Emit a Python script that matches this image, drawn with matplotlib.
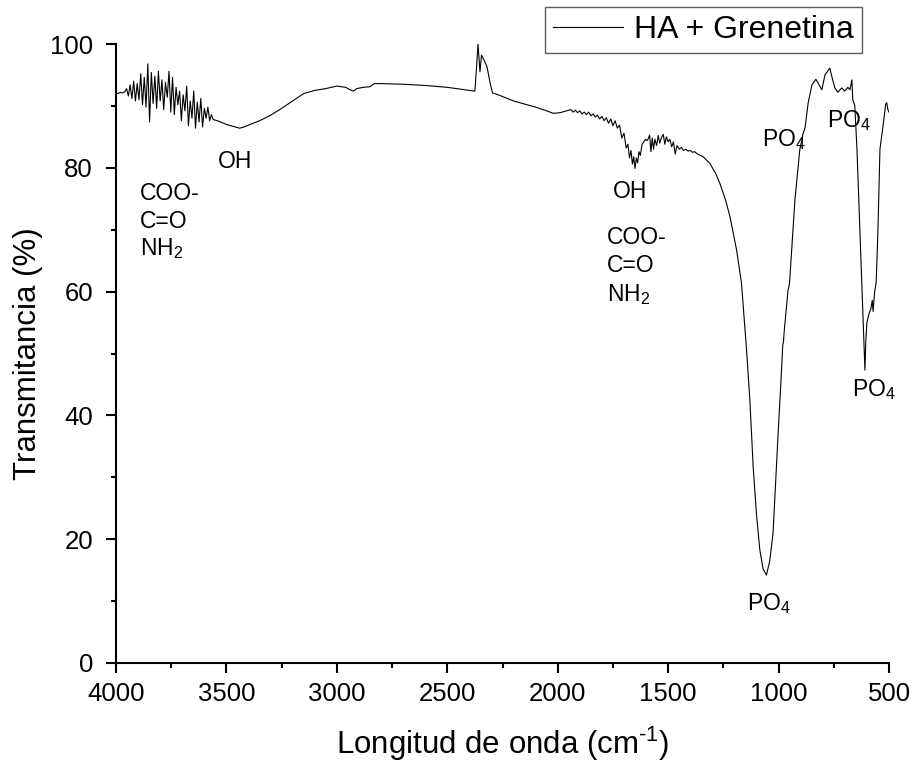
import matplotlib
matplotlib.use("Agg")
import matplotlib.pyplot as plt
import numpy as np

plt.rcParams['font.family'] = ['Liberation Sans', 'DejaVu Sans']
plt.rcParams['mathtext.fontset'] = 'custom'
plt.rcParams['mathtext.rm'] = 'Liberation Sans'
plt.rcParams['mathtext.it'] = 'Liberation Sans:italic'
plt.rcParams['mathtext.bf'] = 'Liberation Sans:bold'

# ---- data: wavenumber (cm-1) and transmittance (%) ----
wavenumber = [
    3998, 3990, 3980, 3970,
    3960, 3952, 3944, 3936, 3928, 3920, 3912, 3904, 3896, 3888, 3880, 3872, 3864,
    3856, 3848, 3840, 3832, 3824, 3816, 3808, 3800, 3792, 3784, 3776, 3768, 3760,
    3752, 3744, 3736, 3728, 3720, 3712, 3704, 3696, 3688, 3680, 3672, 3664, 3656,
    3648, 3640, 3632, 3624, 3616, 3608, 3600, 3592, 3584, 3576, 3568, 3560,
    3540, 3520, 3500, 3480, 3460, 3440, 3420, 3400, 3350, 3300, 3250, 3200, 3150,
    3100, 3050, 3000, 2960, 2940, 2925, 2910, 2880, 2850, 2830, 2800, 2700, 2600,
    2500, 2400, 2375, 2368, 2361, 2352, 2345, 2335, 2320, 2305, 2295, 2270, 2200,
    2100, 2050, 2020,
    1990, 1960, 1940, 1930, 1920, 1910, 1900, 1890, 1880, 1870, 1860, 1850, 1840,
    1830, 1820, 1810, 1800, 1790, 1780, 1770, 1760, 1750, 1740, 1730, 1720, 1710,
    1700, 1690, 1682, 1675, 1668, 1662, 1656, 1650, 1644, 1638, 1632, 1626, 1618,
    1610, 1602, 1596, 1590, 1584, 1578, 1572, 1566, 1560, 1552, 1545, 1538, 1530,
    1522, 1515, 1508, 1500, 1492, 1484, 1476, 1468, 1460, 1450, 1440, 1430, 1420,
    1410, 1400, 1390, 1380, 1370, 1360, 1342, 1311, 1285, 1266, 1240, 1220, 1190,
    1168, 1145, 1130, 1115, 1100, 1085, 1070, 1055, 1040, 1025, 1002, 990, 981,
    978, 974, 957, 953, 950, 926, 904, 890, 880, 866, 849, 831, 820, 804, 790,
    768, 755, 745, 732, 714, 700, 686, 677, 668, 664, 655, 645, 634, 623, 615,
    609, 605, 600, 590, 582, 576, 572, 565, 558, 550, 541, 528, 515, 510, 505, 500,
]
transmittance = [
    92.1, 92.0, 92.2, 92.1,
    92.3, 92.8, 91.6, 93.4, 91.2, 94.0, 90.8, 93.6, 91.0, 95.2, 90.2, 94.6, 89.8,
    96.8, 87.4, 95.4, 90.4, 94.8, 89.6, 95.6, 90.8, 94.2, 89.4, 93.8, 91.4, 95.6,
    89.0, 94.6, 88.6, 93.0, 90.2, 92.4, 87.6, 91.8, 89.2, 93.2, 86.8, 90.8, 88.0,
    92.4, 86.4, 90.6, 87.4, 91.2, 86.6, 89.6, 88.0, 89.8, 87.6, 88.6, 87.8,
    87.6, 87.3, 87.0, 86.8, 86.6, 86.4, 86.6, 86.9, 87.6, 88.5, 89.6, 90.8, 92.0,
    92.5, 92.8, 93.2, 93.0, 92.6, 92.4, 92.8, 93.0, 93.1, 93.6, 93.6, 93.5, 93.3,
    93.0, 92.5, 92.4, 96.0, 100.0, 95.5, 98.2, 97.5, 96.3, 93.5, 92.1, 91.8, 90.8,
    89.8, 89.2, 88.8,
    88.9, 89.2, 89.4, 89.0, 89.3, 88.9, 89.2, 88.7, 89.0, 88.6, 89.0, 88.4, 88.7,
    88.2, 88.5, 87.9, 88.3, 87.6, 88.1, 87.2, 87.9, 86.8, 87.6, 86.4, 86.9, 84.8,
    85.6, 83.2, 83.8, 81.6, 82.8, 80.6, 81.8, 79.9, 81.6, 80.8, 82.6, 82.0, 83.8,
    84.2, 84.6, 84.4, 84.7, 85.3, 82.6, 84.8, 83.0, 84.6, 83.6, 85.2, 84.0, 84.9,
    85.4, 83.8, 85.0, 84.2, 84.6, 83.4, 84.2, 82.2, 83.6, 83.0, 83.3, 82.8, 83.0,
    82.7, 82.8, 82.5, 82.6, 82.3, 82.1, 81.8, 80.7, 79.1, 77.5, 74.8, 72.1, 66.7,
    61.4, 50.6, 42.5, 31.7, 24.0, 18.3, 15.2, 14.2, 16.5, 21.0, 37.1, 45.0, 51.4,
    51.8, 53.8, 60.3, 60.8, 61.6, 74.8, 82.9, 85.4, 86.5, 90.5, 93.4, 94.3, 93.6, 92.6, 95.0,
    96.1, 94.2, 92.9, 92.2, 92.9, 92.4, 93.0, 92.6, 94.2, 91.0, 90.1, 83.0, 72.0, 61.4, 53.0,
    47.3, 52.0, 55.0, 56.5, 57.2, 58.6, 56.8, 60.0, 61.5, 70.0, 83.0, 86.5, 90.3, 90.5, 89.4, 89.0,
]

series_label = "HA + Grenetina"
x_ticks = [4000, 3500, 3000, 2500, 2000, 1500, 1000, 500]
y_ticks = [0, 20, 40, 60, 80, 100]

annotations = [
    (3891, 74.8, "COO-"), (3891, 70.3, "C=O"), (3891, 65.9, "NH$_2$"),
    (3538, 80.0, "OH"),
    (1750, 75.1, "OH"),
    (1777, 67.7, "COO-"), (1777, 63.2, "C=O"), (1777, 58.5, "NH$_2$"),
    (1144, 8.6, "PO$_4$"),
    (1076, 83.5, "PO$_4$"),
    (781, 86.6, "PO$_4$"),
    (668, 43.1, "PO$_4$"),
]

W, H = 916, 770
fig = plt.figure(figsize=(W / 100, H / 100), dpi=100)
ax = fig.add_axes([116 / W, 1 - 663 / H, (889 - 116) / W, (663 - 44) / H])

ax.plot(wavenumber, transmittance, color='black', lw=0.8, label=series_label)

ax.set_xlim(4000, 500)
ax.set_ylim(0, 100)
ax.set_xticks(x_ticks)
ax.set_yticks(y_ticks)
ax.set_xticks(np.arange(3750, 500, -500), minor=True)
ax.set_yticks(np.arange(10, 100, 20), minor=True)

for s in ['top', 'right']:
    ax.spines[s].set_visible(False)
for s in ['left', 'bottom']:
    ax.spines[s].set_linewidth(1.5)

ax.tick_params(which='major', direction='out', length=7.5, width=1.5,
               labelsize=18.5)
ax.tick_params(axis='x', which='major', pad=6)
ax.tick_params(axis='y', which='major', pad=9)
ax.tick_params(which='minor', direction='out', length=3.8, width=1.5)

ax.set_xlabel("Longitud de onda (cm$^{\\text{-}1}$)", fontsize=22.5, labelpad=14)
ax.set_ylabel("Transmitancia (%)", fontsize=22.5, labelpad=5)

for x, y, s in annotations:
    ax.text(x, y, s, fontsize=16.5, ha='left', va='baseline')

leg = ax.legend(loc='upper right', bbox_to_anchor=(862 / W, 1 - 7 / H),
                bbox_transform=fig.transFigure, fontsize=23, frameon=True,
                fancybox=False, handlelength=2.2, handletextpad=0.35,
                borderpad=0.25, borderaxespad=0)
leg.get_frame().set_edgecolor('#333333')
leg.get_frame().set_linewidth(1.0)

fig.savefig("out.png", dpi=100)
